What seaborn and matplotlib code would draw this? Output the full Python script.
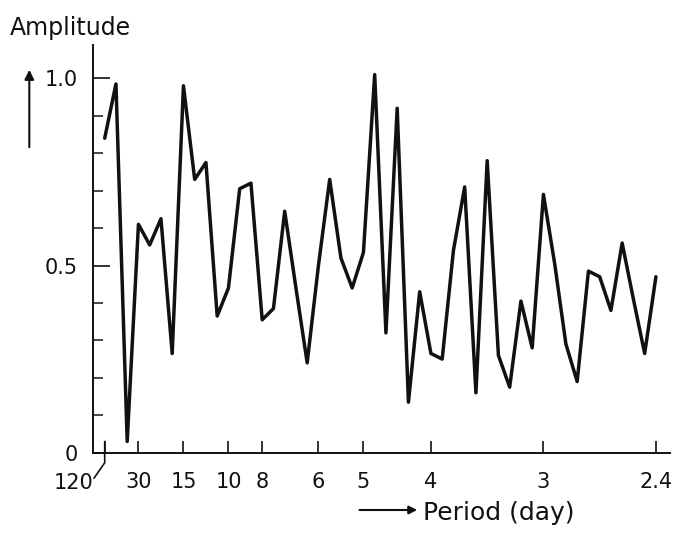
import numpy as np
import pandas as pd
import matplotlib
matplotlib.use("Agg")
import matplotlib.pyplot as plt
import seaborn as sns

# Harmonic number k (frequency = k / 120 cycles per day) and amplitude
harmonic = list(range(1, 51))
amplitude = [0.84, 0.985, 0.03, 0.61, 0.555, 0.625, 0.265, 0.98, 0.73, 0.775,
             0.365, 0.44, 0.705, 0.72, 0.355, 0.385, 0.645, 0.44, 0.24, 0.50,
             0.73, 0.52, 0.44, 0.535, 1.01, 0.32, 0.92, 0.135, 0.43, 0.265,
             0.25, 0.54, 0.71, 0.16, 0.78, 0.26, 0.175, 0.405, 0.28, 0.69,
             0.505, 0.29, 0.19, 0.485, 0.47, 0.38, 0.56, 0.41, 0.265, 0.47]

# Period tick labels (days)
period_ticks = [120, 30, 15, 10, 8, 6, 5, 4, 3, 2.4]
period_labels = ["", "30", "15", "10", "8", "6", "5", "4", "3", "2.4"]

df = pd.DataFrame({"freq": np.array(harmonic) / 120.0, "amp": amplitude})

sns.set_style("ticks")
plt.rcParams["font.family"] = ["DejaVu Sans"]

fig = plt.figure(figsize=(6.77, 5.34), dpi=100)
ax = fig.add_axes([92.7 / 677, 1 - 452.7 / 534, (670 - 92.7) / 677, (452.7 - 45) / 534])

sns.lineplot(data=df, x="freq", y="amp", ax=ax, color="#111111", linewidth=2.5)

ax.set_xlim(-0.000556, 0.4271)
ax.set_ylim(0, 1.089)
sns.despine(ax=ax)
for s in ["left", "bottom"]:
    ax.spines[s].set_linewidth(1.4)
    ax.spines[s].set_color("#111111")

# x ticks at 1/period
ax.set_xticks([1.0 / p for p in period_ticks])
ax.set_xticklabels(period_labels, fontsize=15)
ax.tick_params(axis="x", direction="in", length=9, width=1.2, pad=14, colors="#111111")

# y ticks: every 0.1, labels at 0, 0.5, 1.0
ax.set_yticks([0, 0.5, 1.0])
ax.set_yticklabels(["0", "0.5", "1.0"], fontsize=15)
ax.set_yticks(np.arange(0.1, 1.0, 0.1), minor=True)
ax.tick_params(axis="y", which="major", direction="in", length=12, width=1.2, pad=11, colors="#111111")
ax.tick_params(axis="y", which="minor", direction="in", length=7, width=1.2)
ax.set_xlabel("")
ax.set_ylabel("")

# 120-day tick crosses the axis and leads to its label
ax.plot([1 / 120, 1 / 120, 0.0004], [0.03, -0.027, -0.068], color="#111111", lw=1.2, clip_on=False)
fig.text(74 / 677, 1 - 483 / 534, "120", fontsize=15, ha="center", va="center", color="#111111")

# axis titles with arrows
fig.text(10 / 677, 1 - 35 / 534, "Amplitude", fontsize=17, ha="left", va="baseline", color="#111111")
ax.annotate("", xy=(29.3, 534 - 67), xytext=(29.3, 534 - 150), xycoords="figure pixels",
            textcoords="figure pixels",
            arrowprops=dict(arrowstyle="-|>", lw=1.5, color="#111111", mutation_scale=14))
ax.annotate("", xy=(420, 534 - 510), xytext=(356.7, 534 - 510), xycoords="figure pixels",
            textcoords="figure pixels",
            arrowprops=dict(arrowstyle="-|>", lw=1.5, color="#111111", mutation_scale=12))
fig.text(423 / 677, 1 - 520 / 534, "Period (day)", fontsize=18, ha="left", va="baseline", color="#111111")

fig.savefig("out.png", dpi=100)
